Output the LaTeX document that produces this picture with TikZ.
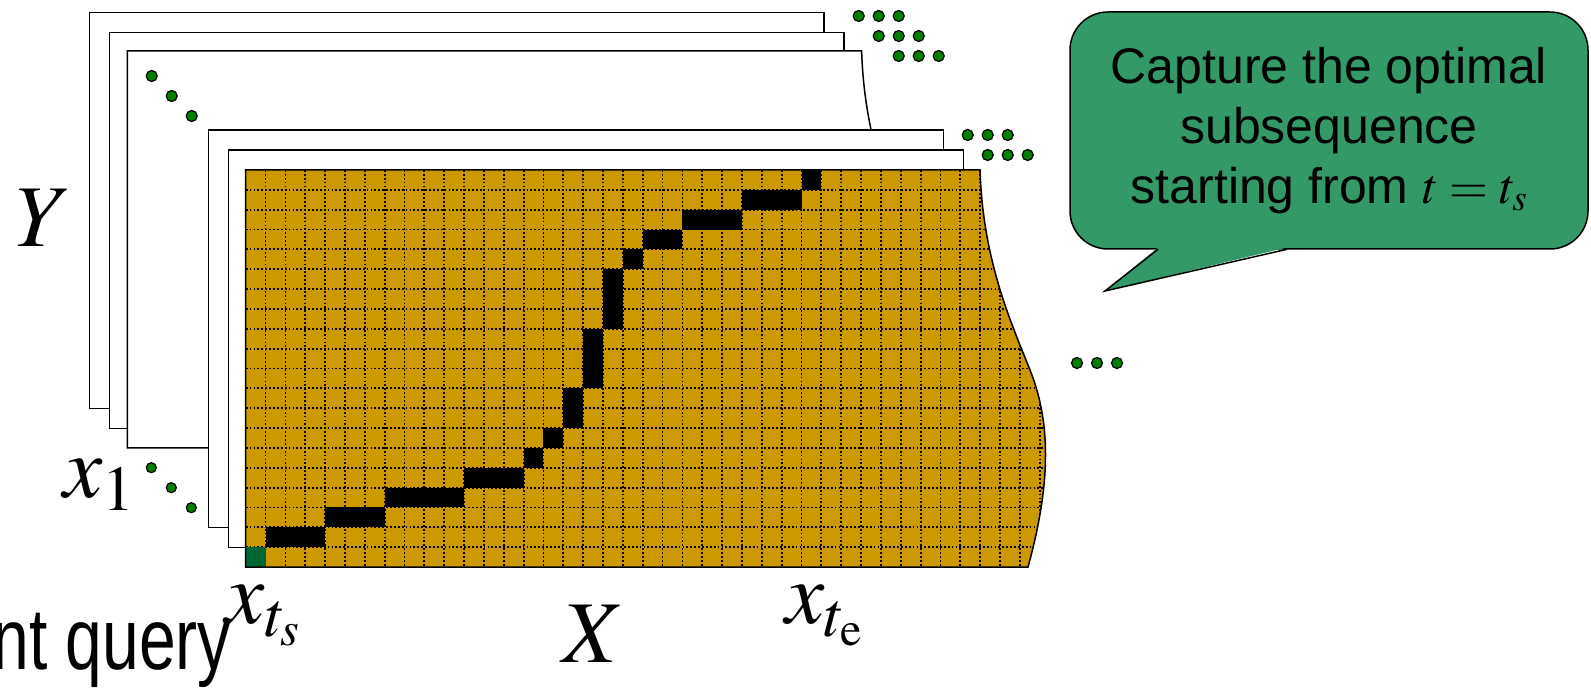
\documentclass[tikz,border=0pt]{standalone}
\usepackage{mathptmx}
\usepackage{fontspec}
\setmainfont{Liberation Serif}
\setsansfont{Liberation Sans}
\DeclareMathSizes{88}{88}{64}{48}
\definecolor{mustard}{HTML}{CC9900}
\definecolor{pinegreen}{HTML}{006633}
\definecolor{leafgreen}{HTML}{008000}
\definecolor{seagreen}{HTML}{339966}
\usetikzlibrary{positioning}

% outline of one page, from its top left corner
\newcommand{\pageshape}{(0,0) -- (734.3,0) .. controls (737.3,90) and (764.3,150) .. (784.3,200) .. controls (804.3,250) and (806.3,310) .. (782.3,397) -- (0,397) -- cycle}

\tikzset{
  sheet/.style={draw=black, line width=1.5pt, fill=white},
  griddot/.style={black, line width=1.8pt, dash pattern=on 1.8pt off 2.1pt},
  seqdot/.style={fill=leafgreen, draw=black, line width=1.2pt},
  axislabel/.style={font=\fontsize{88}{88}\selectfont, anchor=base, inner sep=0pt},
  notebox/.style={draw=black, fill=seagreen, line width=1.5pt, rounded corners=38pt,
    minimum width=518pt, minimum height=237pt, align=center,
    font=\sffamily\fontsize{50}{60}\selectfont}
}

\begin{document}
\begin{tikzpicture}[x=1pt,y=-1pt]
  \useasboundingbox (0,0) rectangle (1591,692);

  % Stacked pages (back)
  \draw[sheet] (89.3,12.3) rectangle ++(734.5,396);
  \draw[sheet] (109.3,32.7) rectangle ++(734.5,396);
  \draw[sheet,shift={(127.3,51)}] \pageshape;
  \draw[sheet] (208.7,130) rectangle ++(734.6,397.7);
  \draw[sheet] (228.7,150) rectangle ++(734.6,397.7);

  % Cost matrix (front)
  \begin{scope}[shift={(245.7,170)}]
    \fill[mustard] \pageshape;
    \begin{scope}
      \clip \pageshape;
      \foreach \c in {1,...,41} \draw[griddot] (\c*19.85,0) -- (\c*19.85,397);
      \foreach \r in {1,...,19} \draw[griddot] (0,\r*19.85) -- (830,\r*19.85);
    \end{scope}
    % warping path: column/row from bottom left, width/height in cells
    \foreach \c/\r/\w/\h in {1/1/3/1, 4/2/3/1, 7/3/4/1, 11/4/3/1, 14/5/1/1, 15/6/1/1,
        16/7/1/2, 17/9/1/3, 18/12/1/3, 19/15/1/1, 20/16/2/1, 22/17/3/1, 25/18/3/1, 28/19/1/1}
      \fill[black] (\c*19.85,397-\r*19.85) rectangle ++(\w*19.85,-\h*19.85);
    \fill[pinegreen] (0,397) rectangle ++(19.85,-19.85);
    \draw[line width=1.5pt] \pageshape;
  \end{scope}

  % Ellipsis dots
  \foreach \x/\y in {858.7/16, 878.7/16, 898.7/16, 878.7/36, 898.7/36, 918.7/36,
      898.7/56, 918.7/56, 938.7/56, 967.7/135, 987.7/135, 1007.7/135,
      987.7/155, 1007.7/155, 1027.7/155, 1077/363, 1097/363, 1117/363}
    \draw[seqdot] (\x,\y) circle (5.5);
  \foreach \i in {0,1,2} {
    \draw[seqdot] (151.7+20*\i,76+20*\i) circle (5.5);
    \draw[seqdot] (151.3+20*\i,467.7+20*\i) circle (5);
  }

  % Axis labels
  \node[axislabel] (ylab) at (44,247) {$Y$};
  \node[axislabel] (xone) at (99,497) {$x_1$};
  \node[axislabel] (xstart) at (263,623) {$x_{t_s}$};
  \node[axislabel] (xlab) at (594,662) {$X$};
  \node[axislabel] (xend) at (824,623) {$x_{t_\mathrm{e}}$};
  \node[anchor=base east, inner sep=0pt, font=\sffamily\fontsize{66}{66}\selectfont] (query)
    at (231,669) {\scalebox{1}[1.32]{nt query}};

  % Callout
  \node[notebox] (note) at (1329,130.5) {Capture the optimal\\subsequence\\starting from $t=t_s$};
  \fill[seagreen] (1158,247.5) -- (1287,247.5) -- (1105,291) -- cycle;
  \draw[line width=1.5pt] (1287,249.3) -- (1105,291) -- (1158,249.3);
\end{tikzpicture}
\end{document}
